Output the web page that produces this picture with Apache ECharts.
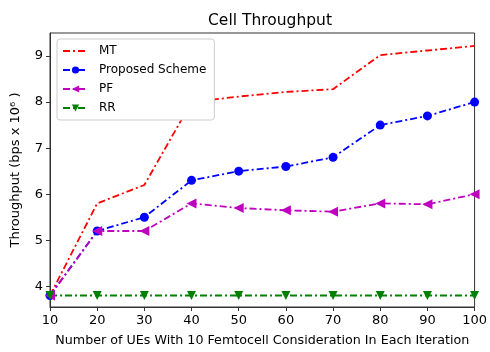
<!DOCTYPE html>
<html><head><meta charset="utf-8">
<script src="https://cdn.jsdelivr.net/npm/echarts@6/dist/echarts.min.js"></script>
<style>html,body{margin:0;padding:0;background:#fff}#c{width:490px;height:352px}</style>
</head><body><div id="c"></div>
<script>
const users = [10, 20, 30, 40, 50, 60, 70, 80, 90, 100];
const mt = [3.8, 5.8, 6.2, 8.0, 8.12, 8.22, 8.28, 9.02, 9.12, 9.22];
const proposed = [3.8, 5.2, 5.5, 6.3, 6.5, 6.6, 6.8, 7.5, 7.7, 8.0];
const pf = [3.8, 5.2, 5.2, 5.8, 5.7, 5.65, 5.62, 5.8, 5.78, 6.0];
const rr = [3.8, 3.8, 3.8, 3.8, 3.8, 3.8, 3.8, 3.8, 3.8, 3.8];
const yTicks = [4, 5, 6, 7, 8, 9];
const xTicks = [10, 20, 30, 40, 50, 60, 70, 80, 90, 100];

const F = 'DejaVu Sans';
const dashDot = [7, 3, 2, 3];
function pts(arr){ return users.map((u,i)=>[u, arr[i]]); }
function mk(name, arr, color, symbol, rot, size){
  return {
    name, type:'line', data: pts(arr),
    symbol: symbol, symbolSize: size, symbolRotate: rot,
    showSymbol: symbol !== 'none',
    lineStyle:{color, width:1.8, type: dashDot},
    itemStyle:{color, borderWidth:0},
    animation:false, clip:false
  };
}
const chart = echarts.init(document.getElementById('c'), null, {renderer:'canvas'});
chart.setOption({
  backgroundColor:'#fff',
  title:{text:'Cell Throughput', left:265, top:8, textAlign:'center',
    textStyle:{fontFamily:F, fontSize:15.5, fontWeight:'normal', color:'#000'}},
  grid:{left:50, right:10, top:33, bottom:39, show:true, borderColor:'#333', borderWidth:1, backgroundColor:'transparent'},
  legend:{
    orient:'vertical', left:57, top:39, itemGap:5, itemWidth:25, itemHeight:9,
    backgroundColor:'#fff', borderColor:'#ccc', borderWidth:1, borderRadius:3, padding:[5,8,5,5],
    textStyle:{fontFamily:F, fontSize:12, color:'#000', lineHeight:14, padding:[0,0,0,6]},
    data:[{name:'MT', itemStyle:{opacity:0}},'Proposed Scheme','PF','RR']
  },
  xAxis:{
    type:'value', min:10, max:100, interval:10,
    name:'Number of UEs With 10 Femtocell Consideration In Each Iteration',
    nameLocation:'middle', nameGap:27,
    nameTextStyle:{fontFamily:F, fontSize:12.7, color:'#000'},
    axisLine:{show:true, lineStyle:{color:'#333'}},
    axisTick:{show:true, length:4, lineStyle:{color:'#333'}},
    axisLabel:{fontFamily:F, fontSize:13, color:'#000', margin:7,
      customValues: xTicks},
    splitLine:{show:false}
  },
  yAxis:{
    type:'value', min:3.55, max:9.5,
    name:'Throughput (bps x 10⁶ )', nameLocation:'middle', nameGap:28,
    nameTextStyle:{fontFamily:F, fontSize:13, color:'#000'},
    axisLine:{show:true, lineStyle:{color:'#333'}},
    axisTick:{show:true, length:4, lineStyle:{color:'#333'}, customValues: yTicks},
    axisLabel:{fontFamily:F, fontSize:13, color:'#000', margin:7, customValues: yTicks},
    splitLine:{show:false}
  },
  series:[
    mk('MT', mt, '#ff0000', 'none', 0, 0),
    mk('Proposed Scheme', proposed, '#0000ff', 'circle', 0, 9),
    mk('PF', pf, '#bf00bf', 'triangle', 90, 10),
    mk('RR', rr, '#008000', 'triangle', 180, 9)
  ]
});
</script></body></html>
